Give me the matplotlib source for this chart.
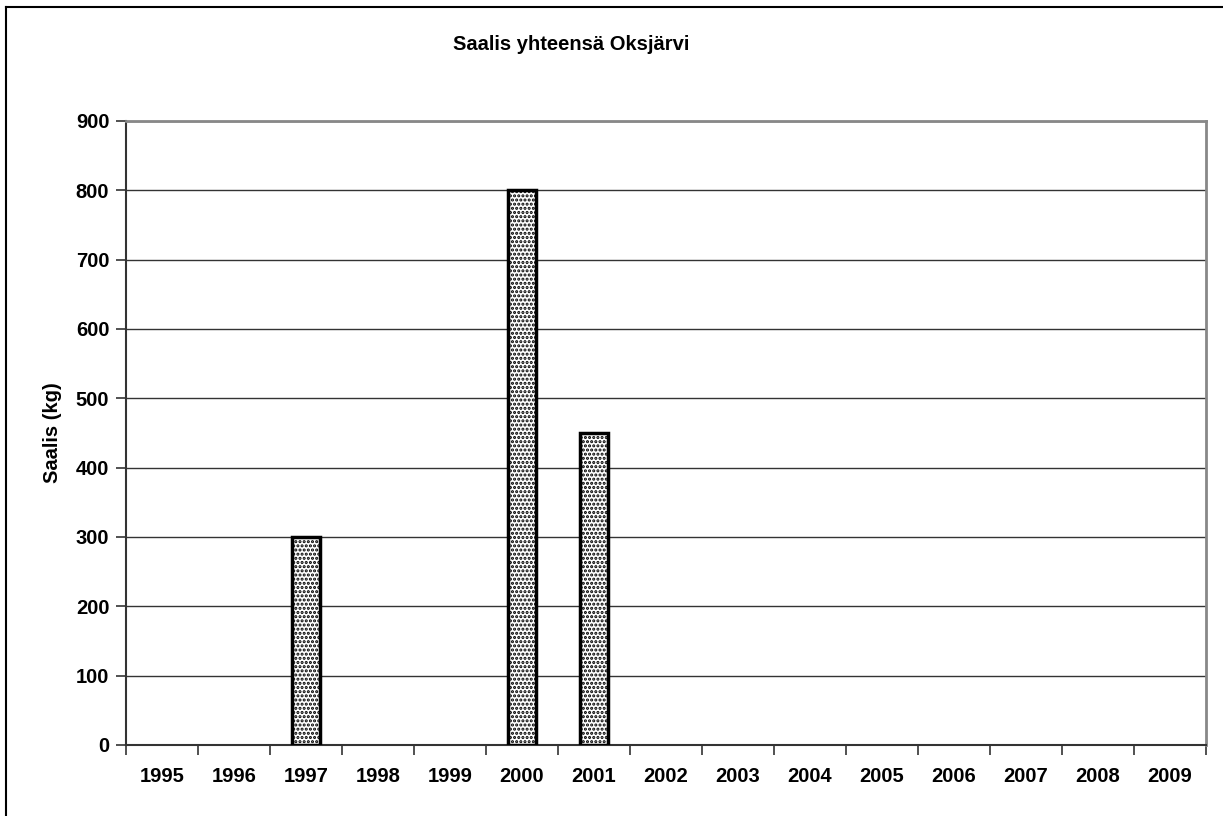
import matplotlib
matplotlib.use("Agg")
import matplotlib.pyplot as plt
from matplotlib.lines import Line2D

plt.rcParams["font.family"] = ["Liberation Sans", "DejaVu Sans"]
plt.rcParams["font.weight"] = "bold"
plt.rcParams["hatch.linewidth"] = 1.5

years = [str(y) for y in range(1995, 2010)]
catch_kg = [0, 0, 300, 0, 0, 800, 450, 0, 0, 0, 0, 0, 0, 0, 0]
y_ticks = list(range(0, 1000, 100))

fig = plt.figure(figsize=(12.23, 8.16), dpi=100)
ax = fig.add_axes([126 / 1223, 1 - 745 / 816, 1080 / 1223, 624 / 816])

# figure border: only top and left edges are inside the image
top = 1 - 7 / 816
left = 6 / 1223
fig.lines.append(Line2D([left, 1.0], [top, top], transform=fig.transFigure,
                        color="black", linewidth=1.5))
fig.lines.append(Line2D([left, left], [0.0, top], transform=fig.transFigure,
                        color="black", linewidth=1.5))

x = list(range(len(years)))
ax.bar([i for i, v in zip(x, catch_kg) if v > 0],
       [v for v in catch_kg if v > 0],
       width=0.4, color="white", edgecolor="black", linewidth=2.5,
       hatch="....", zorder=3)

ax.set_xlim(-0.5, len(years) - 0.5)
ax.set_ylim(0, 900)
ax.set_yticks(y_ticks)
ax.set_yticklabels([str(t) for t in y_ticks], fontsize=14.5, fontweight="bold")
ax.set_xticks(x)
ax.set_xticklabels(years, fontsize=14.5, fontweight="bold")
ax.tick_params(axis="x", length=0, pad=16)
ax.set_xticks([i - 0.5 for i in range(len(years) + 1)], minor=True)
ax.tick_params(axis="x", which="minor", length=7, width=1.2, color="#333333", direction="out")
ax.tick_params(axis="y", length=7, width=1.2, color="#333333", direction="out", pad=5)

ax.grid(axis="y", color="#333333", linewidth=1.0, zorder=0)
ax.set_axisbelow(True)

for side in ["top", "right"]:
    ax.spines[side].set_color("#888888")
    ax.spines[side].set_linewidth(2)
for side in ["left", "bottom"]:
    ax.spines[side].set_color("#333333")
    ax.spines[side].set_linewidth(1.5)

ax.set_ylabel("Saalis (kg)", fontsize=14.5, fontweight="bold", labelpad=10)
fig.text(571 / 1223, 1 - 45 / 816, "Saalis yhteensä Oksjärvi", ha="center", va="center",
         fontsize=14.5, fontweight="bold")

fig.savefig("out.png", dpi=100)
